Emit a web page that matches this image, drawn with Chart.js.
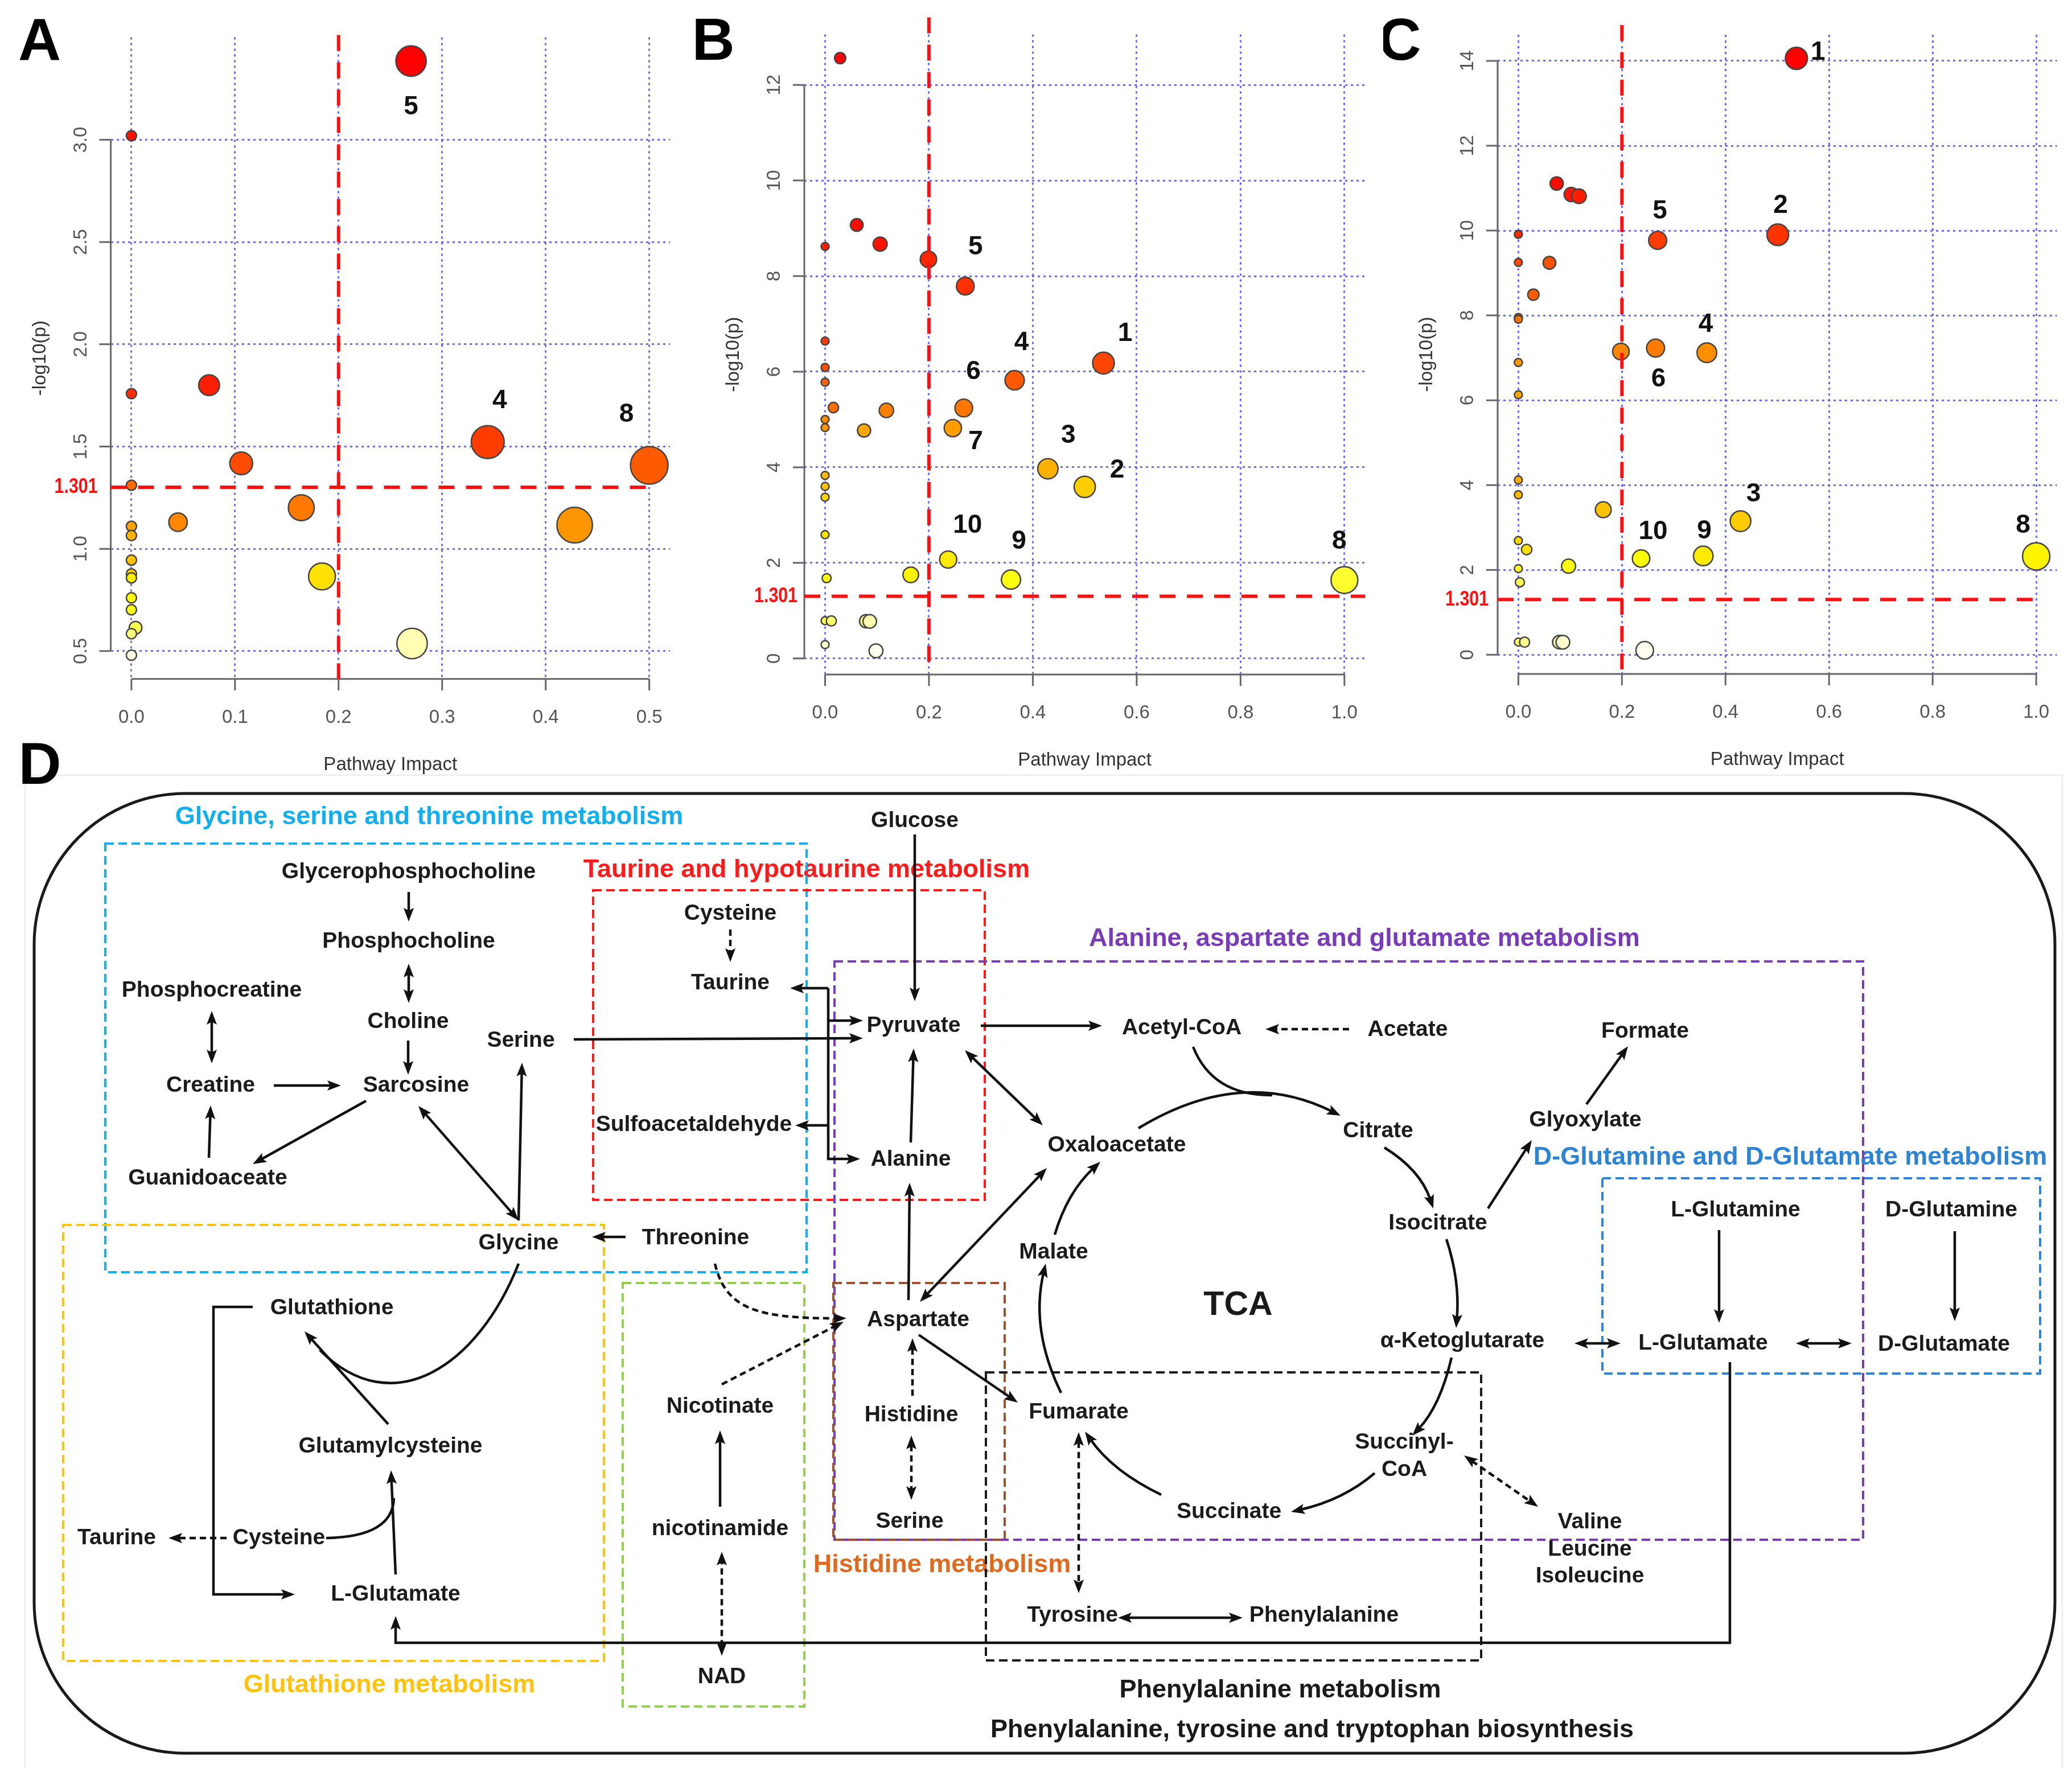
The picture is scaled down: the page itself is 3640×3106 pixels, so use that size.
<!DOCTYPE html>
<html>
<head>
<meta charset="utf-8">
<title>Pathway analysis</title>
<script src="https://cdn.jsdelivr.net/npm/chart.js@4.4.1/dist/chart.umd.min.js"></script>
<style>
  body { margin: 0; background: #fff; }
  #page { position: relative; width: 3640px; height: 3106px; overflow: hidden; background: #fff; }
  .panel { position: absolute; }
</style>
</head>
<body>
<div id="page">
  <div class="panel" style="left:0;top:1290px;width:3640px;height:1816px"><canvas id="chart-d"></canvas></div>
  <div class="panel" style="left:0;top:0;width:1215px;height:1400px"><canvas id="chart-a"></canvas></div>
  <div class="panel" style="left:1215px;top:0;width:1215px;height:1400px"><canvas id="chart-b"></canvas></div>
  <div class="panel" style="left:2430px;top:0;width:1210px;height:1400px"><canvas id="chart-c"></canvas></div>
</div>
<script>
//PANEL A DATA (pathway impact, -log10(p))
var impactA = [0.270, 0.000, 0.075, 0.000, 0.344, 0.106, 0.500, 0.000, 0.164, 0.045, 0.428, 0.000, 0.000, 0.000, 0.000, 0.184, 0.000, 0.000, 0.000, 0.004, 0.000, 0.271, 0.000];
var logpA = [3.385, 3.020, 1.800, 1.759, 1.522, 1.418, 1.408, 1.311, 1.201, 1.130, 1.116, 1.110, 1.065, 0.945, 0.877, 0.865, 0.858, 0.760, 0.702, 0.614, 0.585, 0.537, 0.480];
var tagsA = [["5", 0], ["4", 4], ["8", 6]];
var xTicksA = [0, 0.1, 0.2, 0.3, 0.4, 0.5];
var xLabelsA = ["0.0", "0.1", "0.2", "0.3", "0.4", "0.5"];
var yTicksA = [0.5, 1.0, 1.5, 2.0, 2.5, 3.0];
var yLabelsA = ["0.5", "1.0", "1.5", "2.0", "2.5", "3.0"];

//PANEL B DATA
var impactB = [0.029, 0.061, 0.106, 0.000, 0.199, 0.270, 0.000, 0.536, 0.000, 0.365, 0.000, 0.016, 0.267, 0.118, 0.000, 0.000, 0.246, 0.075, 0.429, 0.000, 0.000, 0.500, 0.000, 0.000, 0.237, 0.165, 0.003, 0.358, 1.000, 0.000, 0.012, 0.079, 0.086, 0.000, 0.098];
var logpB = [12.56, 9.07, 8.67, 8.62, 8.35, 7.79, 6.64, 6.18, 6.09, 5.82, 5.78, 5.25, 5.24, 5.19, 5.00, 4.83, 4.82, 4.77, 3.97, 3.83, 3.60, 3.59, 3.375, 2.59, 2.07, 1.75, 1.68, 1.65, 1.64, 0.79, 0.785, 0.78, 0.775, 0.29, 0.16];
var tagsB = [["5", 5], ["1", 7], ["4", 9], ["6", 12], ["7", 16], ["3", 18], ["2", 21], ["10", 24], ["9", 27], ["8", 28]];
var xTicksB = [0, 0.2, 0.4, 0.6, 0.8, 1.0];
var xLabelsB = ["0.0", "0.2", "0.4", "0.6", "0.8", "1.0"];
var yTicksB = [0, 2, 4, 6, 8, 10, 12];
var yLabelsB = ["0", "2", "4", "6", "8", "10", "12"];

//PANEL C DATA
var impactC = [0.537, 0.074, 0.102, 0.117, 0.000, 0.501, 0.269, 0.000, 0.060, 0.029, 0.000, 0.000, 0.265, 0.198, 0.364, 0.000, 0.000, 0.000, 0.000, 0.164, 0.429, 0.000, 0.016, 0.357, 1.000, 0.237, 0.097, 0.000, 0.003, 0.000, 0.012, 0.079, 0.086, 0.244];
var logpC = [14.06, 11.11, 10.85, 10.81, 9.91, 9.90, 9.77, 9.25, 9.24, 8.49, 7.95, 7.91, 7.23, 7.15, 7.12, 6.89, 6.13, 4.12, 3.77, 3.42, 3.15, 2.69, 2.48, 2.33, 2.32, 2.27, 2.09, 2.03, 1.71, 0.30, 0.299, 0.298, 0.297, 0.105];
var tagsC = [["1", 0], ["2", 5], ["5", 6], ["6", 12], ["4", 14], ["3", 20], ["9", 23], ["8", 24], ["10", 25]];
var xTicksC = [0, 0.2, 0.4, 0.6, 0.8, 1.0];
var xLabelsC = ["0.0", "0.2", "0.4", "0.6", "0.8", "1.0"];
var yTicksC = [0, 2, 4, 6, 8, 10, 12, 14];
var yLabelsC = ["0", "2", "4", "6", "8", "10", "12", "14"];

var impactCut = 0.2;
var pCut = 1.301;

//PANEL D DATA: metabolite name and its place in the figure
var metabolites = [
  ["Glycerophosphocholine", 718, 1532], ["Phosphocholine", 718, 1654], ["Choline", 717, 1795],
  ["Sarcosine", 731, 1907], ["Phosphocreatine", 372, 1740], ["Creatine", 370, 1907],
  ["Guanidoaceate", 365, 2070], ["Serine", 915, 1828], ["Glycine", 911, 2184],
  ["Threonine", 1222, 2175], ["Cysteine", 1283, 1605], ["Taurine", 1283, 1727],
  ["Sulfoacetaldehyde", 1219, 1976], ["Glucose", 1607, 1442], ["Pyruvate", 1605, 1802],
  ["Alanine", 1600, 2037], ["Acetyl-CoA", 2076, 1806], ["Acetate", 2473, 1809],
  ["Oxaloacetate", 1962, 2012], ["Citrate", 2421, 1987], ["Isocitrate", 2526, 2149],
  ["Glyoxylate", 2785, 1968], ["Formate", 2890, 1812], ["Malate", 1851, 2200],
  ["Aspartate", 1613, 2319], ["Histidine", 1601, 2486], ["Serine", 1598, 2673],
  ["Fumarate", 1895, 2481], ["Succinate", 2159, 2656], ["Succinyl-", 2467, 2534],
  ["CoA", 2467, 2582], ["α-Ketoglutarate", 2569, 2356], ["L-Glutamine", 3049, 2126],
  ["D-Glutamine", 3428, 2126], ["L-Glutamate", 2992, 2360], ["D-Glutamate", 3415, 2362],
  ["Valine", 2793, 2674], ["Leucine", 2793, 2722], ["Isoleucine", 2793, 2769],
  ["Tyrosine", 1884, 2838], ["Phenylalanine", 2326, 2838], ["Glutathione", 583, 2298],
  ["Glutamylcysteine", 686, 2541], ["Taurine", 205, 2702], ["Cysteine", 490, 2702],
  ["L-Glutamate", 695, 2801], ["Nicotinate", 1265, 2471], ["nicotinamide", 1265, 2686],
  ["NAD", 1268, 2946]
];

// pathway boxes: title, x1, y1, x2, y2, title x, title y
var pathways = [
  ["Glycine, serine and threonine metabolism", 185, 1482, 1417, 2235, 754, 1436],
  ["Taurine and hypotaurine metabolism", 1042, 1564, 1730, 2108, 1417, 1529],
  ["Alanine, aspartate and glutamate metabolism", 1466, 1689, 3273, 2705, 2397, 1650],
  ["D-Glutamine and D-Glutamate metabolism", 2815, 2070, 3584, 2413, 3145, 2034],
  ["Histidine metabolism", 1464, 2254, 1765, 2705, 1655, 2750],
  ["Glutathione metabolism", 111, 2152, 1061, 2918, 684, 2961],
  ["", 1094, 2254, 1413, 2998, 0, 0],
  ["Phenylalanine metabolism", 1732, 2411, 2602, 2917, 2249, 2970]
];
var extraTitles = [["Phenylalanine, tyrosine and tryptophan biosynthesis", 2305, 3040], ["TCA", 2175, 2294]];

// reactions: k = curve kind, h = arrow heads, d = dashed
var reactions = [
  {p: [[718, 1567], [718, 1619]], h: ">"},
  {p: [[718, 1693], [718, 1762]], h: "<>"},
  {p: [[717, 1828], [717, 1888]], h: ">"},
  {p: [[372, 1776], [372, 1868]], h: "<>"},
  {p: [[481, 1907], [599, 1907]], h: ">"},
  {p: [[367, 2034], [370, 1942]], h: ">"},
  {p: [[643, 1934], [444, 2045]], h: ">"},
  {p: [[735, 1943], [911, 2144]], h: "<>"},
  {p: [[911, 2144], [917, 1867]], h: ">"},
  {p: [[1008, 1826], [1516, 1824]], h: ">"},
  {p: [[1099, 2173], [1040, 2173]], h: ">"},
  {p: [[1283, 1633], [1283, 1690]], h: ">", d: 1},
  {p: [[1455, 1736], [1388, 1736]], h: ">"},
  {p: [[1455, 1736], [1455, 2036], [1511, 2036]], h: ">"},
  {p: [[1455, 1977], [1397, 1977]], h: ">"},
  {p: [[1455, 1793], [1516, 1793]], h: ">"},
  {p: [[1607, 1466], [1607, 1759]], h: ">"},
  {p: [[1723, 1802], [1936, 1802]], h: ">"},
  {p: [[2370, 1808], [2223, 1808]], h: ">", d: 1},
  {p: [[1600, 2007], [1605, 1842]], h: ">"},
  {p: [[1596, 2284], [1598, 2078]], h: ">"},
  {p: [[1695, 1845], [1832, 1977]], h: "<>"},
  {k: "q", p: [[2000, 1982], [2180, 1873], [2355, 1960]], h: ">"},
  {k: "q", p: [[2096, 1839], [2130, 1925], [2235, 1924]], h: ""},
  {k: "q", p: [[2432, 2016], [2495, 2055], [2518, 2123]], h: ">"},
  {p: [[2614, 2123], [2691, 2003]], h: ">"},
  {p: [[2787, 1940], [2860, 1838]], h: ">"},
  {k: "q", p: [[2541, 2177], [2565, 2250], [2558, 2333]], h: ">"},
  {k: "q", p: [[2550, 2385], [2530, 2470], [2481, 2522]], h: ">"},
  {k: "q", p: [[2415, 2588], [2360, 2635], [2268, 2656]], h: ">"},
  {k: "q", p: [[2040, 2626], [1955, 2585], [1906, 2515]], h: ">"},
  {k: "q", p: [[1864, 2447], [1810, 2336], [1837, 2220]], h: ">"},
  {k: "q", p: [[1853, 2169], [1875, 2095], [1933, 2041]], h: ">"},
  {p: [[1616, 2287], [1839, 2052]], h: "<>"},
  {p: [[1614, 2345], [1788, 2464]], h: ">"},
  {p: [[2766, 2360], [2847, 2360]], h: "<>"},
  {p: [[3155, 2360], [3253, 2360]], h: "<>"},
  {p: [[3020, 2161], [3020, 2324]], h: ">"},
  {p: [[3434, 2163], [3434, 2321]], h: ">"},
  {p: [[2572, 2557], [2702, 2647]], h: "<>", d: 1},
  {p: [[3039, 2393], [3039, 2886], [695, 2886], [695, 2839]], h: ">"},
  {p: [[1964, 2842], [2183, 2842]], h: "<>"},
  {p: [[1895, 2516], [1895, 2799]], h: "<>", d: 1},
  {p: [[1603, 2452], [1603, 2351]], h: ">", d: 1},
  {p: [[1601, 2522], [1601, 2635]], h: "<>", d: 1},
  {k: "c", p: [[1256, 2220], [1275, 2300], [1330, 2316], [1487, 2316]], h: ">", d: 1},
  {p: [[1268, 2432], [1482, 2322]], h: ">", d: 1},
  {p: [[1265, 2647], [1265, 2513]], h: ">"},
  {p: [[1268, 2909], [1268, 2726]], h: "<>", d: 1},
  {p: [[444, 2296], [375, 2296], [375, 2801], [518, 2801]], h: ">"},
  {p: [[682, 2502], [535, 2339]], h: ">"},
  {k: "c", p: [[911, 2220], [840, 2400], [690, 2500], [562, 2372]], h: ""},
  {p: [[398, 2702], [296, 2702]], h: ">", d: 1},
  {k: "q", p: [[573, 2702], [690, 2700], [692, 2632]], h: ""},
  {p: [[695, 2766], [687, 2583]], h: ">"}
];

/*************************STYLES*******************/
var FONT = "'Liberation Sans', Arial, sans-serif";
var pathwayColors = ["#12aef0", "#ff1a1a", "#7a3bb8", "#2d83d4", "#a0522d", "#ffc20e", "#92d050", "#1a1a1a"];
var pathwayTitleColors = ["#12aef0", "#ff1a1a", "#7a3bb8", "#2d83d4", "#dd6a1f", "#ffc20e", "#92d050", "#1a1a1a"];

// R heat.colors()
function hsvColor(h, s, v) {
  var i = Math.floor(h * 6), f = h * 6 - i;
  var p = v * (1 - s), q = v * (1 - f * s), t = v * (1 - (1 - f) * s);
  var rgb = [[v, t, p], [q, v, p], [p, v, t], [p, q, v], [t, p, v], [v, p, q]][i % 6];
  return "rgb(" + rgb.map(function (c) { return Math.round(c * 255); }).join(",") + ")";
}
function heatColors(n) {
  var j = Math.floor(n / 4), i = n - j, out = [], k;
  for (k = 0; k < i; k++) out.push(hsvColor(i > 1 ? k / (i - 1) / 6 : 0, 1, 1));
  for (k = 0; k < j; k++) {
    var s0 = 1 - 1 / (2 * j), s1 = 1 / (2 * j);
    out.push(hsvColor(1 / 6, j > 1 ? s0 + (s1 - s0) * k / (j - 1) : s0, 1));
  }
  return out;
}
function rRange(arr) {
  var lo = Math.min.apply(null, arr), hi = Math.max.apply(null, arr), ext = (hi - lo) * 0.04;
  return [lo - ext, hi + ext];
}

/*************************BUBBLE PANELS*******************/
function bubblePanel(id, p) {
  var n = p.impact.length;
  var order = p.logp.map(function (v, i) { return i; }).sort(function (a, b) { return p.logp[b] - p.logp[a]; });
  var heat = heatColors(n), colors = [];
  order.forEach(function (idx, rank) { colors[idx] = heat[rank]; });
  var xmax = Math.max.apply(null, p.impact);
  var points = order.map(function (i) {
    return {x: p.impact[i], y: p.logp[i], r: p.rmin + p.k * Math.sqrt(p.impact[i] / xmax)};
  });
  var xr = rRange(p.impact), yr = rRange(p.logp);

  var plugin = {
    id: "rpanel",
    afterDraw: function (chart) {
      var g = chart.ctx, a = chart.chartArea;
      var X = function (v) { return chart.scales.x.getPixelForValue(v); };
      var Y = function (v) { return chart.scales.y.getPixelForValue(v); };
      g.save();
      //AXES
      g.strokeStyle = "#666"; g.lineWidth = 3; g.setLineDash([]);
      g.beginPath();
      g.moveTo(X(p.xTicks[0]), a.bottom); g.lineTo(X(p.xTicks[p.xTicks.length - 1]), a.bottom);
      p.xTicks.forEach(function (v) { g.moveTo(X(v), a.bottom); g.lineTo(X(v), a.bottom + 20); });
      g.moveTo(a.left, Y(p.yTicks[0])); g.lineTo(a.left, Y(p.yTicks[p.yTicks.length - 1]));
      p.yTicks.forEach(function (v) { g.moveTo(a.left, Y(v)); g.lineTo(a.left - 20, Y(v)); });
      g.stroke();
      g.font = "33px " + FONT; g.fillStyle = "#555"; g.textAlign = "center"; g.textBaseline = "middle";
      p.xTicks.forEach(function (v, i) { g.fillText(p.xLabels[i], X(v), a.bottom + 68); });
      p.yTicks.forEach(function (v, i) {
        g.save(); g.translate(a.left - 52, Y(v)); g.rotate(-Math.PI / 2); g.fillText(p.yLabels[i], 0, 0); g.restore();
      });
      g.fillStyle = "#333";
      g.fillText("Pathway Impact", (a.left + a.right) / 2, a.bottom + 151);
      g.save(); g.translate(a.left - 124, (a.top + a.bottom) / 2); g.rotate(-Math.PI / 2);
      g.fillText("-log10(p)", 0, 0); g.restore();
      //CUT-OFF LINES
      g.strokeStyle = "#ff1010"; g.lineWidth = 6; g.setLineDash([28, 20]);
      g.beginPath();
      g.moveTo(X(impactCut), a.top - p.vTop); g.lineTo(X(impactCut), a.bottom - p.vBottom);
      g.moveTo(a.left, Y(pCut)); g.lineTo(p.hEnd == null ? a.right : X(p.hEnd), Y(pCut));
      g.stroke();
      g.setLineDash([]);
      g.font = "bold 37px " + FONT; g.fillStyle = "#ff1010"; g.textAlign = "right";
      g.save(); g.translate(a.left - p.cutGap, Y(pCut)); g.scale(0.82, 1);
      g.fillText("1.301", 0, 0); g.restore();
      //PATHWAY NUMBERS
      g.font = "bold 46px " + FONT; g.fillStyle = "#111"; g.textAlign = "center";
      p.tags.forEach(function (t, i) {
        var off = p.tagOffsets[i];
        g.fillText(t[0], X(p.impact[t[1]]) + off[0], Y(p.logp[t[1]]) + off[1]);
      });
      //PANEL LETTER
      g.font = "bold 104px " + FONT; g.fillStyle = "#000";
      g.fillText(p.letter, a.left + p.letterPos[0], a.top + p.letterPos[1]);
      g.restore();
    }
  };

  var axis = function (range, ticks) {
    return {
      type: "linear", min: range[0], max: range[1],
      afterBuildTicks: function (ax) { ax.ticks = ticks.map(function (v) { return {value: v}; }); },
      ticks: {display: false},
      grid: {color: "rgba(80,80,255,0.85)", lineWidth: 3, drawTicks: false},
      border: {display: false, dash: [4, 6]}
    };
  };

  return new Chart(document.getElementById(id).getContext("2d"), {
    type: "bubble",
    data: {
      datasets: [{
        data: points,
        backgroundColor: order.map(function (i) { return colors[i]; }),
        borderColor: "#444",
        borderWidth: 2.5,
        clip: false
      }]
    },
    options: {
      responsive: true, maintainAspectRatio: false, devicePixelRatio: 1, animation: false, events: [],
      layout: {padding: p.padding},
      plugins: {legend: {display: false}, tooltip: {enabled: false}},
      scales: {x: axis(xr, p.xTicks), y: axis(yr, p.yTicks)}
    },
    plugins: [plugin]
  });
}

/*************************DIAGRAM PANEL*******************/
var HL = 24, HW = 9;
function arrowHead(g, x, y, ang) {
  g.save(); g.translate(x, y); g.rotate(ang);
  g.beginPath(); g.moveTo(0, 0); g.lineTo(-HL, -HW); g.lineTo(-HL * 0.8, 0); g.lineTo(-HL, HW); g.closePath();
  g.fill(); g.restore();
}
function drawReaction(g, X, Y, e) {
  var p = e.p.map(function (q) { return [X(q[0]), Y(q[1])]; }), n = p.length;
  var endHead = e.h === ">" || e.h === "<>", startHead = e.h === "<>";
  var a1 = Math.atan2(p[n - 1][1] - p[n - 2][1], p[n - 1][0] - p[n - 2][0]);
  var a0 = Math.atan2(p[0][1] - p[1][1], p[0][0] - p[1][0]);
  var s = p[0], t = p[n - 1];
  if (startHead) s = [p[0][0] - Math.cos(a0) * HL * 0.7, p[0][1] - Math.sin(a0) * HL * 0.7];
  if (endHead) t = [p[n - 1][0] - Math.cos(a1) * HL * 0.7, p[n - 1][1] - Math.sin(a1) * HL * 0.7];
  g.setLineDash(e.d ? [11, 7] : []);
  g.beginPath(); g.moveTo(s[0], s[1]);
  if (e.k === "q") g.quadraticCurveTo(p[1][0], p[1][1], t[0], t[1]);
  else if (e.k === "c") g.bezierCurveTo(p[1][0], p[1][1], p[2][0], p[2][1], t[0], t[1]);
  else { for (var i = 1; i < n - 1; i++) g.lineTo(p[i][0], p[i][1]); g.lineTo(t[0], t[1]); }
  g.stroke();
  g.setLineDash([]);
  if (endHead) arrowHead(g, p[n - 1][0], p[n - 1][1], a1);
  if (startHead) arrowHead(g, p[0][0], p[0][1], a0);
}

var diagramPlugin = {
  id: "diagram",
  afterDatasetsDraw: function (chart) {
    var g = chart.ctx;
    var X = function (v) { return chart.scales.x.getPixelForValue(v); };
    var Y = function (v) { return chart.scales.y.getPixelForValue(v); };
    g.save();
    g.textAlign = "center"; g.textBaseline = "middle";
    // faint frame of the panel
    g.strokeStyle = "#efefef"; g.lineWidth = 3;
    g.strokeRect(X(44), Y(1362), X(3623) - X(44), Y(3110) - Y(1362));
    // outer rounded frame
    g.strokeStyle = "#1a1a1a"; g.lineWidth = 5;
    var x1 = X(60), y1 = Y(1394), x2 = X(3610), y2 = Y(3080), r = 265;
    g.beginPath();
    g.moveTo(x1 + r, y1); g.lineTo(x2 - r, y1); g.arcTo(x2, y1, x2, y1 + r, r);
    g.lineTo(x2, y2 - r); g.arcTo(x2, y2, x2 - r, y2, r);
    g.lineTo(x1 + r, y2); g.arcTo(x1, y2, x1, y2 - r, r);
    g.lineTo(x1, y1 + r); g.arcTo(x1, y1, x1 + r, y1, r);
    g.closePath(); g.stroke();
    // pathway titles
    g.font = "bold 45px " + FONT;
    pathways.forEach(function (pw, i) {
      if (!pw[0]) return;
      g.fillStyle = pathwayTitleColors[i];
      g.fillText(pw[0], X(pw[5]), Y(pw[6]));
    });
    g.fillStyle = "#1a1a1a";
    g.fillText(extraTitles[0][0], X(extraTitles[0][1]), Y(extraTitles[0][2]));
    g.font = "bold 59px " + FONT;
    g.fillText(extraTitles[1][0], X(extraTitles[1][1]), Y(extraTitles[1][2]));
    // pathway boxes
    g.lineWidth = 4; g.setLineDash([15, 8]);
    pathways.forEach(function (pw, i) {
      g.strokeStyle = pathwayColors[i];
      g.strokeRect(X(pw[1]), Y(pw[2]), X(pw[3]) - X(pw[1]), Y(pw[4]) - Y(pw[2]));
    });
    g.setLineDash([]);
    // reactions
    g.strokeStyle = "#111"; g.fillStyle = "#111"; g.lineWidth = 4.5; g.lineCap = "butt";
    reactions.forEach(function (e) { drawReaction(g, X, Y, e); });
    // metabolite names at the dataset points
    g.font = "bold 39px " + FONT; g.fillStyle = "#1b1b1b";
    chart.getDatasetMeta(0).data.forEach(function (pt, i) {
      g.fillText(metabolites[i][0], pt.x, pt.y);
    });
    // panel letter
    g.font = "bold 104px " + FONT; g.fillStyle = "#000";
    g.fillText("D", X(70), Y(1348));
    g.restore();
  }
};

//ONLOAD FUNCTION
window.onload = function () {
  bubblePanel("chart-a", {
    impact: impactA, logp: logpA, tags: tagsA, letter: "A",
    xTicks: xTicksA, xLabels: xLabelsA, yTicks: yTicksA, yLabels: yLabelsA,
    rmin: 9, k: 24,
    padding: {left: 194.5, right: 38, top: 65.5, bottom: 207.3},
    tagOffsets: [[0, 81], [21, -72], [-40, -89]],
    vTop: 4, vBottom: 0, hEnd: 0.5, cutGap: 23, letterPos: [-125, 11]
  });
  bubblePanel("chart-b", {
    impact: impactB, logp: logpB, tags: tagsB, letter: "B",
    xTicks: xTicksB, xLabels: xLabelsB, yTicks: yTicksB, yLabels: yLabelsB,
    rmin: 7, k: 16.5,
    padding: {left: 198, right: 31.7, top: 60.5, bottom: 215},
    tagOffsets: [[18, -68], [38, -52], [12, -66], [17, -63], [40, 24], [36, -58], [57, -29], [34, -60], [14, -67], [-9, -68]],
    vTop: 30, vBottom: 14, hEnd: null, cutGap: 12, letterPos: [-160, 16]
  });
  bubblePanel("chart-c", {
    impact: impactC, logp: logpC, tags: tagsC, letter: "C",
    xTicks: xTicksC, xLabels: xLabelsC, yTicks: yTicksC, yLabels: yLabelsC,
    rmin: 7, k: 17,
    padding: {left: 201, right: 25.8, top: 60.9, bottom: 215.9},
    tagOffsets: [[38, -10], [5, -51], [4, -51], [5, 55], [-2, -49], [23, -47], [2, -43], [-23, -54], [21, -47]],
    vTop: 17, vBottom: 0, hEnd: 1.0, cutGap: 16, letterPos: [-172, 15]
  });

  new Chart(document.getElementById("chart-d").getContext("2d"), {
    type: "scatter",
    data: {
      datasets: [{
        data: metabolites.map(function (m) { return {x: m[1], y: m[2]}; }),
        pointRadius: 0
      }]
    },
    options: {
      responsive: true, maintainAspectRatio: false, devicePixelRatio: 1, animation: false, events: [],
      layout: {padding: 0},
      plugins: {legend: {display: false}, tooltip: {enabled: false}},
      scales: {
        x: {type: "linear", min: 0, max: 3640, display: false},
        y: {type: "linear", min: 1290, max: 3106, reverse: true, display: false}
      }
    },
    plugins: [diagramPlugin]
  });
};
</script>
</body>
</html>
